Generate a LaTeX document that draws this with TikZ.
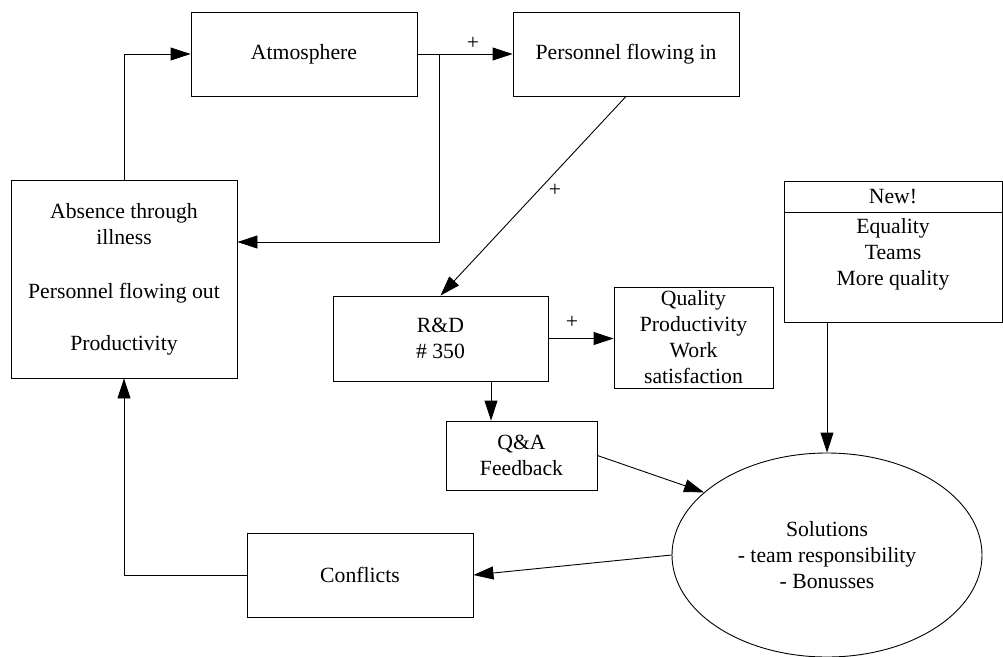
\documentclass[tikz,border=0pt]{standalone}
\usepackage{fontspec}
\setmainfont{Liberation Serif}
\usetikzlibrary{arrows.meta,shapes.geometric}
\begin{document}
\begin{tikzpicture}[x=1pt,y=-1pt,
  every node/.style={font=\fontsize{21.7}{26}\selectfont, align=center, inner sep=0pt},
  box/.style={draw, line width=0.9pt, rectangle},
  arr/.style={line width=0.9pt, -{Triangle[length=20pt,width=13pt]}},
  ln/.style={line width=0.9pt},
  plus/.style={font=\fontsize{21.7}{26}\selectfont}]
\useasboundingbox[fill=white] (0,0) rectangle (1003,656);
% boxes
\node[box, minimum width=226pt, minimum height=84pt] (atm) at (304,54) {Atmosphere};
\node[box, minimum width=226pt, minimum height=84pt] (pin) at (626,54) {Personnel flowing in};
\node[box, minimum width=226pt, minimum height=198pt] (abs) at (124,279)
  {Absence through\\illness\\[28pt]Personnel flowing out\\[26pt]Productivity};
\node[box, minimum width=215pt, minimum height=85pt] (rd) at (440.5,338.5) {R\&D\\\# 350};
\node[box, minimum width=159pt, minimum height=101pt] (qual) at (693.5,337.5)
  {Quality\\Productivity\\Work\\satisfaction};
\node[box, minimum width=151pt, minimum height=69pt] (qa) at (521.5,455.5) {Q\&A\\Feedback};
\node[box, minimum width=218pt, minimum height=31pt] (newh) at (893,196.5) {New!};
\node[box, minimum width=218pt, minimum height=110pt] (newb) at (893,267) {Equality\\Teams\\More quality\\[4pt]};
\node[draw, line width=0.9pt, ellipse, minimum width=310pt, minimum height=204pt] (ell) at (827,555)
  {Solutions\\- team responsibility\\- Bonusses};
\node[box, minimum width=226pt, minimum height=84pt] (conf) at (360,575) {Conflicts};
% helper coordinates
\coordinate (brk) at (439,54);
\coordinate (lvl) at (0,242);
\coordinate (colA) at (491,0);
% connectors
\draw[arr] (atm.east) -- (pin.west);
\node[plus] (p1) at (473,43) {+};
\draw[arr] (brk) |- (abs.east |- lvl);
\draw[arr] (abs.north) |- (atm.west);
\draw[arr] (pin.south) -- (rd.north);
\node[plus] (p2) at (555,190) {+};
\draw[arr] (rd.east) -- (rd.east -| qual.west);
\node[plus] (p3) at (572,322) {+};
\draw[arr] (rd.south -| colA) -- (qa.north -| colA);
\draw[arr] (qa.east) -- (ell.153);
\draw[arr] (newb.south -| ell.north) -- (ell.north);
\draw[arr] (ell.west) -- (conf.east);
\draw[arr] (conf.west) -| (abs.south);
\end{tikzpicture}
\end{document}
